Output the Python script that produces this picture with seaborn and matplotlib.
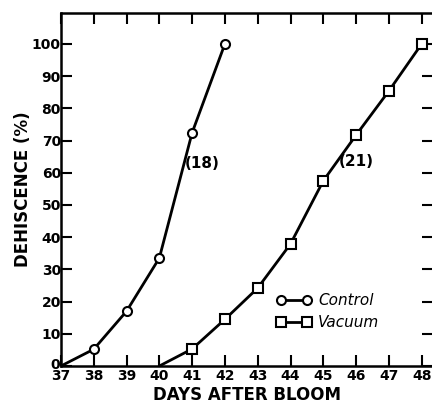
import numpy as np
import pandas as pd
import matplotlib
matplotlib.use("Agg")
import matplotlib.pyplot as plt
import matplotlib.transforms as mtransforms
import seaborn as sns

# data
control_days = [37, 38, 39, 40, 41, 42]
control_pct = [0, 5.2, 17.0, 33.5, 72.4, 100]
vacuum_days = [40, 41, 42, 43, 44, 45, 46, 47, 48]
vacuum_pct = [0, 5.3, 14.5, 24.2, 37.9, 57.5, 71.7, 85.4, 100]
x_ticks = list(range(37, 49))
y_ticks = list(range(0, 101, 10))

control = pd.DataFrame({"day": control_days, "pct": control_pct})
vacuum = pd.DataFrame({"day": vacuum_days, "pct": vacuum_pct})

sns.set_style("ticks")
plt.rcParams["font.family"] = ["DejaVu Sans"]
plt.rcParams["font.weight"] = "bold"
for k in ["text.color", "axes.labelcolor", "xtick.color", "ytick.color", "axes.edgecolor"]:
    plt.rcParams[k] = "black"

fig = plt.figure(figsize=(4.32, 4.04), dpi=100)
ax = fig.add_axes([0.141, 0.094, 0.861, 0.874])

# first point of each curve has no marker in the original
sns.lineplot(data=control, x="day", y="pct", ax=ax, color="black", lw=2,
             marker="o", markersize=6.5, markerfacecolor="white",
             markeredgecolor="black", markeredgewidth=1.5, label="Control",
             markevery=slice(1, None))
sns.lineplot(data=vacuum, x="day", y="pct", ax=ax, color="black", lw=2,
             marker="s", markersize=6.5, markerfacecolor="white",
             markeredgecolor="black", markeredgewidth=1.5, label="Vacuum",
             markevery=slice(1, None))

ax.set_xlim(37, 48.34)
ax.set_ylim(0, 109.6)
ax.set_xticks(x_ticks)
ax.set_yticks(y_ticks)
ax.set_xticklabels([str(t) for t in x_ticks], fontsize=10, fontweight="bold")
ax.set_yticklabels([str(t) for t in y_ticks], fontsize=10, fontweight="bold")
ax.tick_params(direction="in", length=8, width=1.5, top=True, right=True)
ax.tick_params(axis="y", pad=0)
ax.tick_params(axis="x", pad=2)
for s in ax.spines.values():
    s.set_linewidth(1.8)

# nudge the "0" label up a little so it doesn't sit on the "37"
zero_lbl = ax.get_yticklabels()[0]
zero_lbl.set_transform(zero_lbl.get_transform() +
                       mtransforms.ScaledTranslation(-1 / 100, 3 / 100, fig.dpi_scale_trans))

ax.set_xlabel("DAYS AFTER BLOOM", fontsize=12, fontweight="bold", labelpad=2)
ax.set_ylabel("DEHISCENCE (%)", fontsize=12, fontweight="bold", labelpad=0)

ax.text(41.3, 63, "(18)", fontsize=11, ha="center", va="center")
ax.text(46.0, 63.5, "(21)", fontsize=11, ha="center", va="center")

leg = ax.legend(loc="upper left", bbox_to_anchor=(0.543, 0.245), frameon=False,
                numpoints=2, handlelength=2.3, handletextpad=0.4, labelspacing=0.45,
                prop={"size": 11, "style": "italic", "weight": "normal"})
for line in leg.get_lines():
    line.set_linewidth(2)
    line.set_markevery(None)

fig.savefig("out.png", dpi=100)
